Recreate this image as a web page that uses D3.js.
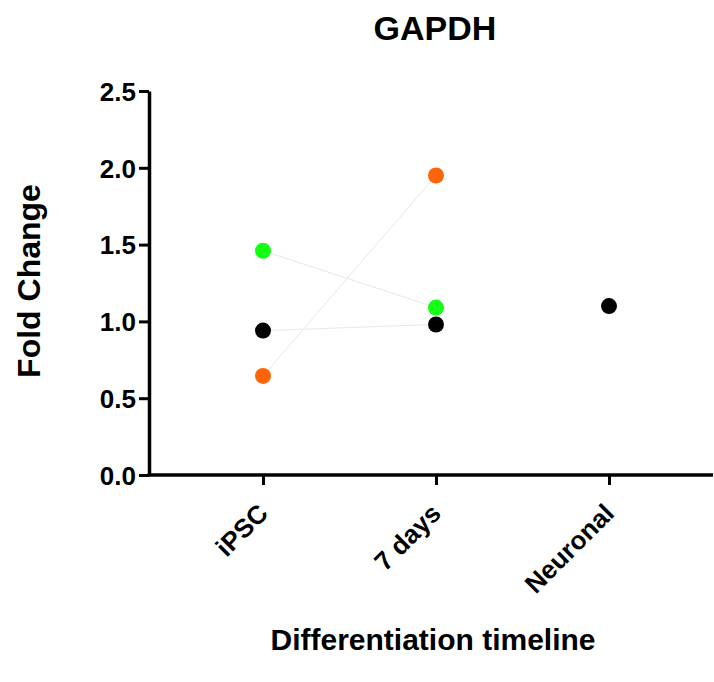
<!DOCTYPE html>
<html>
<head>
<meta charset="utf-8">
<script src="https://cdn.jsdelivr.net/npm/d3@7"></script>
<style>
  body { margin: 0; background: #fff; }
  text { font-family: "Liberation Sans", Arial, sans-serif; font-weight: bold; fill: #000; }
</style>
</head>
<body>
<script>
// chart data
var categories = ['iPSC', '7 days', 'Neuronal'];
var yTicks = [0.0, 0.5, 1.0, 1.5, 2.0, 2.5];
var seriesNames = ['black', 'green', 'orange'];
var seriesColors = ['#000000', '#14ff14', '#ff6408'];
var blackValues = [0.94, 0.98, 1.10];
var greenValues = [1.46, 1.09, null];
var orangeValues = [0.645, 1.95, null];

var createSvg = function() {
  let width = 714, height = 682;
  let plot = { left: 149, right: 713, top: 91, bottom: 475 };

  let svg = d3.select('body')
    .append('svg')
    .attr('width', width)
    .attr('height', height);

  let x = d3.scalePoint()
    .domain(categories)
    .range([263, 609]);

  let y = d3.scaleLinear()
    .domain([0, 2.5])
    .range([plot.bottom, plot.top]);

  let series = [blackValues, greenValues, orangeValues].map((vals, i) => {
    return {
      name: seriesNames[i],
      color: seriesColors[i],
      points: vals.map((v, j) => ({ cat: categories[j], v: v })).filter(d => d.v != null)
    };
  });

  // Y axis
  let yAxis = svg.append('g')
    .attr('transform', 'translate(' + plot.left + ',0)')
    .call(d3.axisLeft(y).tickValues(yTicks).tickFormat(d3.format('.1f')).tickSize(10).tickSizeOuter(0).tickPadding(3));
  yAxis.select('.domain').attr('stroke-width', 3.5);
  yAxis.selectAll('.tick line').attr('stroke-width', 3);
  yAxis.selectAll('.tick text').style('font-size', '26px').attr('dy', '0.36em');

  // X axis
  let xAxis = svg.append('g')
    .attr('transform', 'translate(0,' + plot.bottom + ')')
    .call(d3.axisBottom(x).tickSize(10).tickSizeOuter(0));
  xAxis.select('.domain').remove();
  xAxis.append('line')
    .attr('x1', plot.left - 1.5).attr('x2', plot.right)
    .attr('y1', 0).attr('y2', 0)
    .attr('stroke', '#000').attr('stroke-width', 3.5);
  xAxis.selectAll('.tick line').attr('stroke-width', 3);
  xAxis.selectAll('.tick text')
    .style('font-size', '26px')
    .attr('text-anchor', 'end')
    .attr('dy', 0)
    .attr('y', 0)
    .attr('transform', 'translate(6,40) rotate(-45)');

  // connecting lines
  let line = d3.line()
    .x(d => x(d.cat))
    .y(d => y(d.v));
  svg.append('g').selectAll('path')
    .data(series.filter(s => s.points.length > 1))
    .enter()
    .append('path')
    .attr('d', s => line(s.points.slice(0, 2)))
    .attr('fill', 'none')
    .attr('stroke', '#e8e8e8')
    .attr('stroke-width', 1);

  // points
  series.forEach(s => {
    svg.append('g').selectAll('circle')
      .data(s.points)
      .enter()
      .append('circle')
      .attr('cx', d => x(d.cat))
      .attr('cy', d => y(d.v))
      .attr('r', 8)
      .attr('fill', s.color);
  });

  // titles
  svg.append('text')
    .attr('x', 435).attr('y', 40)
    .attr('text-anchor', 'middle')
    .style('font-size', '34px')
    .text('GAPDH');

  svg.append('text')
    .attr('transform', 'translate(40,' + 281 + ') rotate(-90)')
    .attr('text-anchor', 'middle')
    .style('font-size', '32px')
    .text('Fold Change');

  svg.append('text')
    .attr('x', 433).attr('y', 650)
    .attr('text-anchor', 'middle')
    .style('font-size', '30px')
    .text('Differentiation timeline');
}

createSvg();
</script>
</body>
</html>
